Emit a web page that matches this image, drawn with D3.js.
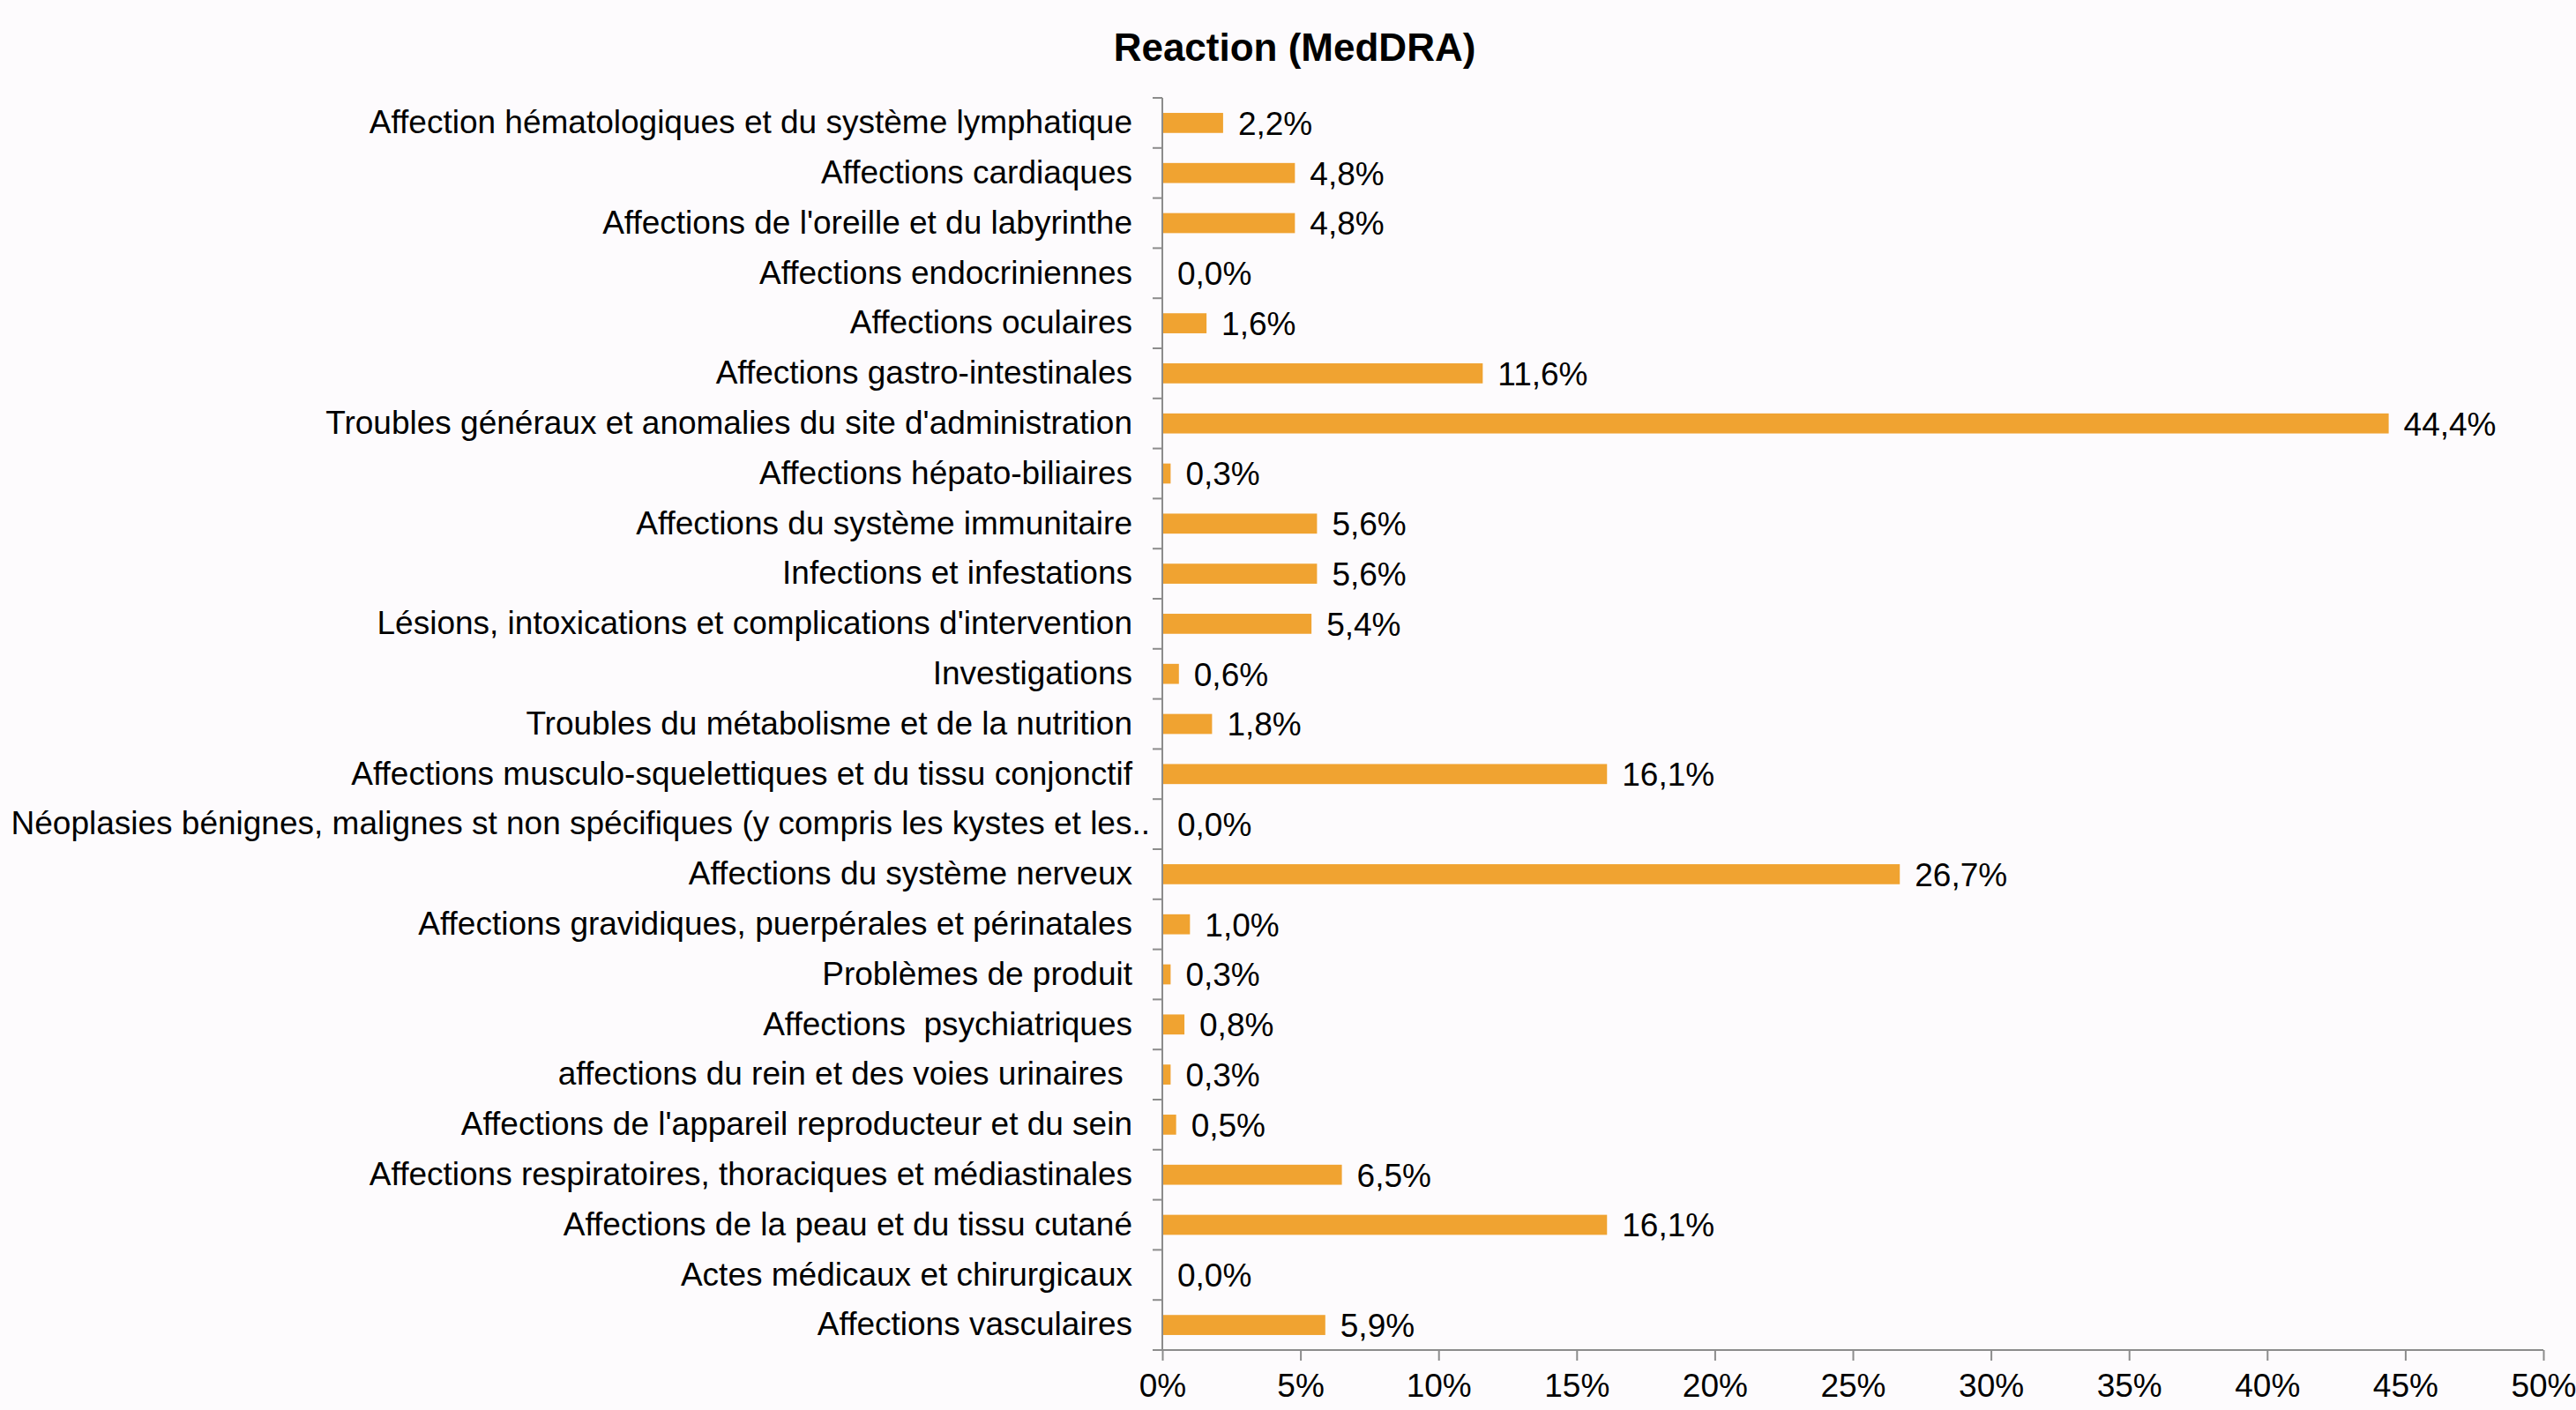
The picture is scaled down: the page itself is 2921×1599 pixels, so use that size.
<!DOCTYPE html>
<html>
<head>
<meta charset="utf-8">
<script src="https://cdn.jsdelivr.net/npm/d3@7"></script>
<style>
  body { margin: 0; background: #fdfbfd; }
  svg text { font-family: "Liberation Sans", Arial, sans-serif; white-space: pre; }
</style>
</head>
<body>
<div class="chart"></div>
<script>
var categories = [
  "Affection hématologiques et du système lymphatique",
  "Affections cardiaques",
  "Affections de l'oreille et du labyrinthe",
  "Affections endocriniennes",
  "Affections oculaires",
  "Affections gastro-intestinales",
  "Troubles généraux et anomalies du site d'administration",
  "Affections hépato-biliaires",
  "Affections du système immunitaire",
  "Infections et infestations",
  "Lésions, intoxications et complications d'intervention",
  "Investigations",
  "Troubles du métabolisme et de la nutrition",
  "Affections musculo-squelettiques et du tissu conjonctif",
  "Néoplasies bénignes, malignes st non spécifiques (y compris les kystes et les..",
  "Affections du système nerveux",
  "Affections gravidiques, puerpérales et périnatales",
  "Problèmes de produit",
  "Affections  psychiatriques",
  "affections du rein et des voies urinaires ",
  "Affections de l'appareil reproducteur et du sein",
  "Affections respiratoires, thoraciques et médiastinales",
  "Affections de la peau et du tissu cutané",
  "Actes médicaux et chirurgicaux",
  "Affections vasculaires"
];
var values = [2.2, 4.8, 4.8, 0.0, 1.6, 11.6, 44.4, 0.3, 5.6, 5.6, 5.4, 0.6, 1.8, 16.1, 0.0, 26.7, 1.0, 0.3, 0.8, 0.3, 0.5, 6.5, 16.1, 0.0, 5.9];
var xTicks = [0, 5, 10, 15, 20, 25, 30, 35, 40, 45, 50];
var title = "Reaction (MedDRA)";

var width = 2921, height = 1599;
var plotLeft = 1318, plotRight = 2884, plotTop = 111, plotBottom = 1531;

var fr = d3.formatLocale({decimal: ",", thousands: " ", grouping: [3], currency: ["", "€"]});
var fmt = fr.format(".1f");

var svg = d3.select(".chart")
  .append("svg")
  .attr("width", width)
  .attr("height", height);

var x = d3.scaleLinear().domain([0, 50]).range([plotLeft, plotRight]);
var y = d3.scaleBand().domain(categories).range([plotTop, plotBottom]).paddingInner(0.6).paddingOuter(0.3);

svg.append("text")
  .attr("x", 1468)
  .attr("y", 69)
  .attr("text-anchor", "middle")
  .style("font-size", "44px")
  .style("font-weight", "bold")
  .text(title);

// bars
svg.selectAll("rect.bar")
  .data(values)
  .enter().append("rect")
  .attr("class", "bar")
  .attr("x", x(0))
  .attr("y", function(d, i){ return y(categories[i]); })
  .attr("width", function(d){ return x(d) - x(0); })
  .attr("height", y.bandwidth())
  .style("fill", "#f0a331");

// value labels
svg.selectAll("text.val")
  .data(values)
  .enter().append("text")
  .attr("class", "val")
  .attr("x", function(d){ return x(d) + 17; })
  .attr("y", function(d, i){ return y(categories[i]) + y.bandwidth() / 2; })
  .attr("dy", "0.36em")
  .style("font-size", "37px")
  .style("fill", "#000")
  .text(function(d){ return fmt(d) + "%"; });

// y axis
var yAxis = d3.axisLeft(y).tickSize(0).tickPadding(34);
var gy = svg.append("g").attr("transform", "translate(" + plotLeft + ",0)").call(yAxis);
gy.select(".domain").remove();
gy.selectAll("text").style("font-size", "37px").style("fill", "#000").style("font-family", "Liberation Sans, Arial, sans-serif");
// the truncated label runs a bit further right, like in excel
gy.selectAll("text").filter(function(d){ return /\.\.$/.test(d); }).attr("x", -14);

// y axis line and ticks between categories
var step = y.step();
var bounds = d3.range(categories.length + 1).map(function(i){ return plotTop + i * step; });
svg.append("line")
  .attr("x1", plotLeft).attr("x2", plotLeft)
  .attr("y1", plotTop).attr("y2", plotBottom)
  .style("stroke", "#8c8c8c").style("stroke-width", 2);
svg.selectAll("line.ytick")
  .data(bounds)
  .enter().append("line")
  .attr("class", "ytick")
  .attr("x1", plotLeft - 11).attr("x2", plotLeft)
  .attr("y1", function(d){ return d; }).attr("y2", function(d){ return d; })
  .style("stroke", "#8c8c8c").style("stroke-width", 2);

// x axis
var xAxis = d3.axisBottom(x).tickValues(xTicks).tickSize(12).tickPadding(15)
  .tickFormat(function(d){ return d + "%"; });
var gx = svg.append("g").attr("transform", "translate(0," + plotBottom + ")").call(xAxis);
gx.select(".domain").style("stroke", "#8c8c8c").style("stroke-width", 2)
  .attr("d", "M" + plotLeft + ",0H" + plotRight);
gx.selectAll(".tick line").style("stroke", "#8c8c8c").style("stroke-width", 2);
gx.selectAll("text").style("font-size", "37px").style("fill", "#000").style("font-family", "Liberation Sans, Arial, sans-serif");
</script>
</body>
</html>
